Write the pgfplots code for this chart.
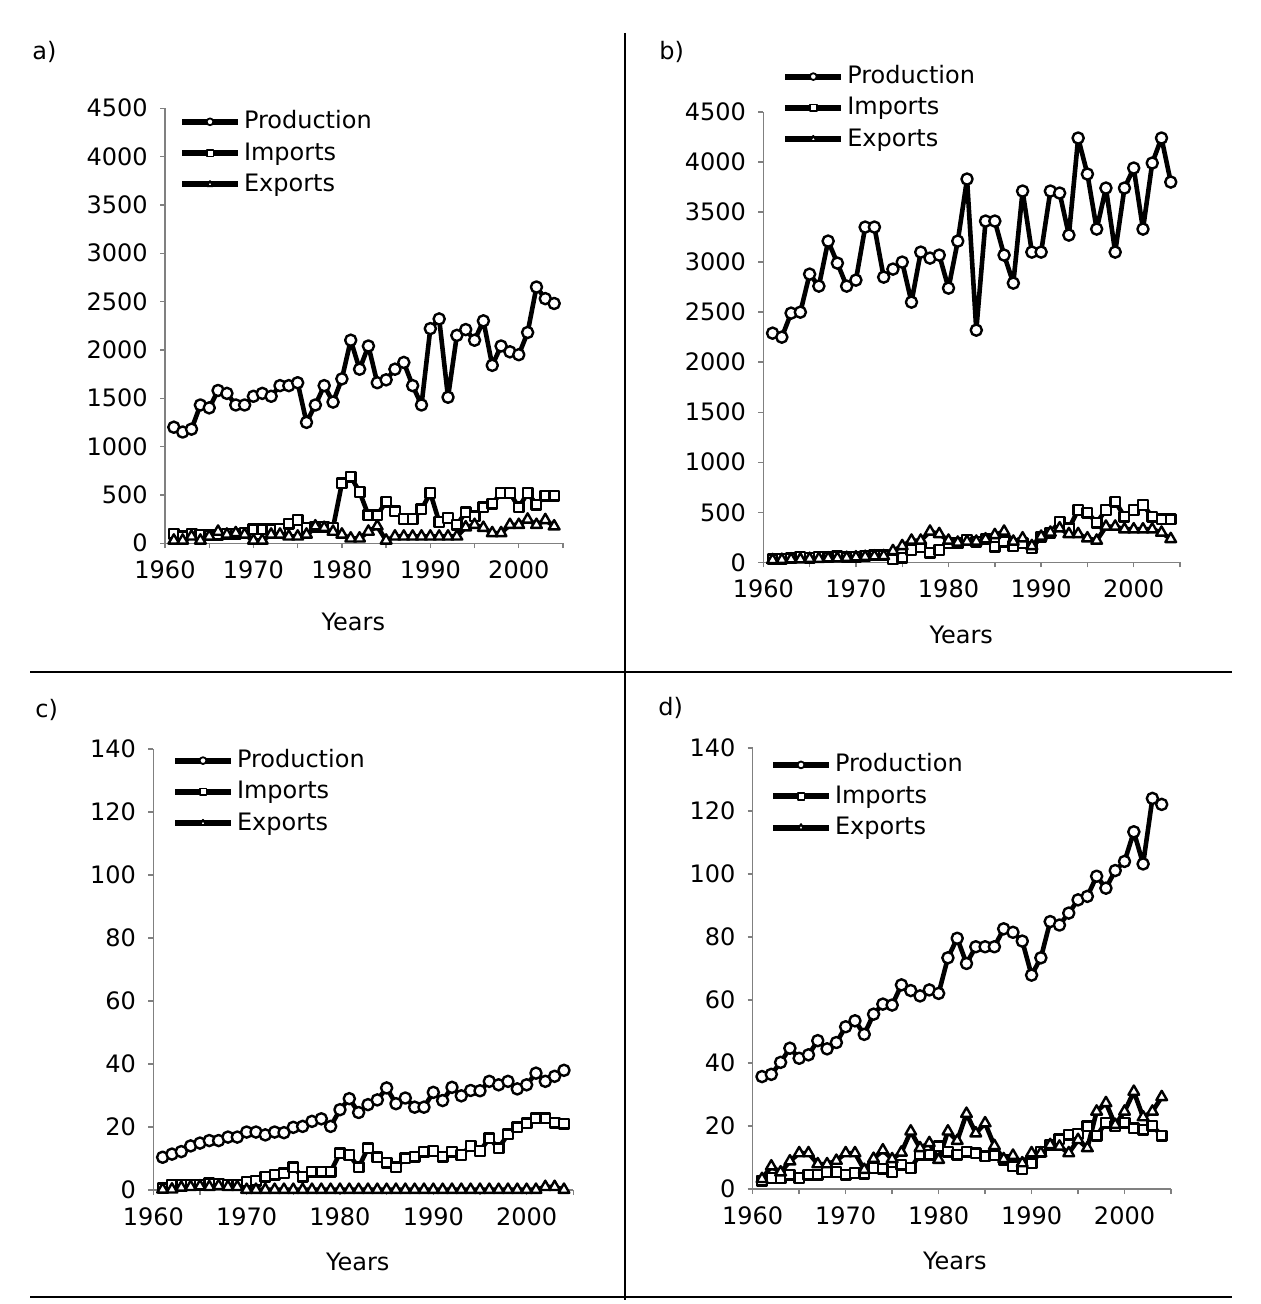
\documentclass[border=0pt]{standalone}
\usepackage{fontspec}
\setmainfont{DejaVu Sans}
\usepackage{pgfplots}
\usepackage{pgfplotstable}
\pgfplotsset{compat=1.18}

\pgfplotstableread{
year prod imp exp
1961 1200 100 28
1962 1150 70 28
1963 1180 100 70
1964 1430 90 28
1965 1400 80 70
1966 1580 90 120
1967 1550 100 90
1968 1430 100 105
1969 1430 110 90
1970 1520 145 28
1971 1550 145 28
1972 1520 145 90
1973 1630 150 90
1974 1630 200 70
1975 1660 240 70
1976 1250 160 90
1977 1430 170 175
1978 1630 170 160
1979 1460 160 120
1980 1700 620 90
1981 2100 690 50
1982 1800 530 50
1983 2040 290 120
1984 1660 290 175
1985 1690 430 28
1986 1800 330 70
1987 1870 250 70
1988 1630 250 70
1989 1430 350 70
1990 2220 520 70
1991 2320 220 70
1992 1510 260 70
1993 2150 190 70
1994 2210 320 165
1995 2100 280 190
1996 2300 370 160
1997 1840 410 105
1998 2040 520 105
1999 1980 520 190
2000 1950 370 190
2001 2180 520 245
2002 2650 400 190
2003 2530 490 240
2004 2480 490 175
}\dataA

\pgfplotstableread{
year prod imp exp
1961 2290 30 23
1962 2250 35 25
1963 2490 40 30
1964 2500 55 30
1965 2880 45 35
1966 2760 55 35
1967 3210 50 40
1968 2990 60 40
1969 2760 50 45
1970 2820 55 50
1971 3350 65 55
1972 3350 70 60
1973 2850 70 63
1974 2930 30 113
1975 3000 47 163
1976 2600 123 217
1977 3100 150 217
1978 3040 97 307
1979 3070 123 283
1980 2740 190 217
1981 3210 190 197
1982 3830 223 207
1983 2320 207 207
1984 3410 230 230
1985 3410 157 273
1986 3070 207 307
1987 2790 163 207
1988 3710 190 240
1989 3100 140 163
1990 3100 257 257
1991 3710 297 297
1992 3690 407 340
1993 3270 340 283
1994 4240 523 283
1995 3880 497 240
1996 3330 397 217
1997 3740 523 357
1998 3100 607 357
1999 3740 457 330
2000 3940 523 330
2001 3330 573 330
2002 3990 457 330
2003 4240 430 297
2004 3800 430 233
}\dataB

\pgfplotstableread{
year prod imp exp
1961 10.4 0.5 0.2
1962 11.4 1.6 0.2
1963 12.2 1.6 0.8
1964 14.0 1.6 1.0
1965 14.9 1.6 1.2
1966 15.7 2.1 1.0
1967 15.7 1.9 1.3
1968 16.8 1.6 1.0
1969 16.8 1.6 1.0
1970 18.4 2.7 0.1
1971 18.4 2.9 0.1
1972 17.5 4.2 0.1
1973 18.4 4.8 0.1
1974 18.2 5.3 0.1
1975 19.9 7.2 0.1
1976 20.2 4.2 0.1
1977 21.8 5.8 0.1
1978 22.6 5.8 0.1
1979 20.2 5.8 0.1
1980 25.5 11.7 0.1
1981 29.0 11.1 0.1
1982 24.6 7.2 0.1
1983 27.1 13.3 0.1
1984 28.6 10.4 0.1
1985 32.4 8.7 0.1
1986 27.4 7.2 0.1
1987 29.2 10.1 0.1
1988 26.3 10.6 0.1
1989 26.3 12.2 0.1
1990 31.0 12.4 0.1
1991 28.4 10.6 0.1
1992 32.6 12.2 0.1
1993 29.9 11.1 0.1
1994 31.6 14.0 0.1
1995 31.5 12.4 0.1
1996 34.5 16.4 0.1
1997 33.4 13.3 0.1
1998 34.5 17.7 0.1
1999 32.1 19.9 0.1
2000 33.4 21.2 0.1
2001 37.1 22.8 0.1
2002 34.5 22.8 1.0
2003 36.1 21.4 1.0
2004 38.0 21.0 0.1
}\dataC

\pgfplotstableread{
year prod imp exp
1961 35.7 2.7 3.2
1962 36.4 3.5 7.2
1963 40.2 3.5 5.3
1964 44.7 4.5 8.8
1965 41.5 3.5 11.4
1966 42.6 4.5 11.4
1967 47.1 4.5 7.9
1968 44.5 5.4 7.9
1969 46.5 5.4 9.0
1970 51.5 4.5 11.4
1971 53.4 5.1 11.4
1972 49.1 4.8 6.1
1973 55.5 6.7 9.6
1974 58.7 6.4 12.3
1975 58.4 5.4 9.5
1976 64.8 7.7 11.6
1977 63.0 6.7 18.3
1978 61.3 10.9 13.0
1979 63.2 10.9 14.6
1980 62.1 13.5 9.3
1981 73.4 11.9 18.3
1982 79.6 10.9 15.3
1983 71.6 11.9 23.9
1984 76.9 11.4 17.7
1985 76.9 10.4 20.9
1986 76.9 10.7 13.7
1987 82.6 9.3 9.5
1988 81.5 7.2 10.6
1989 78.7 6.3 8.2
1990 67.9 8.2 11.4
1991 73.4 11.9 11.4
1992 84.9 14.0 14.0
1993 83.8 15.8 13.5
1994 87.6 17.2 11.4
1995 91.8 17.5 15.6
1996 92.9 19.9 13.0
1997 99.3 16.9 24.6
1998 95.5 21.1 27.3
1999 101.1 19.9 20.4
2000 104.0 21.1 24.6
2001 113.4 19.3 30.9
2002 103.2 18.8 22.8
2003 124.0 20.1 24.6
2004 122.1 16.9 29.2
}\dataD

\pgfplotsset{
  panel/.style={
    scale only axis,
    clip=false,
    axis x line=bottom, axis y line=left,
    axis line style={-, draw=gray, line width=0.7pt},
    xmin=1960, xmax=2005,
    xtick={1960,1965,...,2005},
    xticklabels={1960,,1970,,1980,,1990,,2000,},
    tick align=outside,
    major tick length=2.5pt,
    tick style={draw=gray, line width=0.7pt},
    tick label style={font=\fontsize{12}{14}\selectfont},
    /pgf/number format/assume math mode=true,
    /pgf/number format/1000 sep={},
    xticklabel style={anchor=north, inner sep=0pt, yshift=-6pt},
    yticklabel style={anchor=east, inner sep=0pt, xshift=-6pt},
    xlabel={Years},
    xlabel style={font=\fontsize{12}{14}\selectfont, at={(axis description cs:0.5,0)}, anchor=center},
    legend style={draw=none, fill=none, inner sep=0pt, outer sep=0pt,
      font=\fontsize{12}{14}\selectfont,
      at={(0,1)}, anchor=north west,
      row sep=2.65pt, column sep=1.5pt,
      nodes={inner sep=0pt, text height=10pt, text depth=3pt}},
    legend cell align=left,
    legend image code/.code={%
      \draw[##1, mark=none, line width=3pt] (0pt,0pt) -- (28pt,0pt);%
      \draw[##1, mark size=1.7pt, mark options={solid, fill=white, draw=black, line width=0.9pt}] plot coordinates {(14pt,0pt)};%
    },
  },
  prod/.style={black, line width=2.3pt, line join=round, mark=*, mark size=2.8pt, mark options={solid, fill=white, draw=black, line width=1.2pt}},
  imp/.style={black, line width=2.3pt, line join=round, mark=square*, mark size=2.4pt, mark options={solid, fill=white, draw=black, line width=1.2pt}},
  expo/.style={black, line width=2.3pt, line join=round, mark=triangle*, mark size=3.1pt, mark options={solid, fill=white, draw=black, line width=1.2pt}},
}

\begin{document}
\begin{tikzpicture}
\path[use as bounding box] (0pt,0pt) rectangle (630pt,-652pt);

% separators
\draw[line width=1.2pt] (312.5pt,-16.5pt) -- (312.5pt,-650pt);
\draw[line width=1.2pt] (15pt,-336pt) -- (616pt,-336pt);
\draw[line width=1.2pt] (15pt,-648.5pt) -- (616pt,-648.5pt);

% panel labels
\node[anchor=west, inner sep=0pt, font=\fontsize{12}{14}\selectfont] at (16pt,-26pt) {a)};
\node[anchor=west, inner sep=0pt, font=\fontsize{12}{14}\selectfont] at (329.5pt,-26pt) {b)};
\node[anchor=west, inner sep=0pt, font=\fontsize{12}{14}\selectfont] at (17.5pt,-355pt) {c)};
\node[anchor=west, inner sep=0pt, font=\fontsize{12}{14}\selectfont] at (329pt,-354pt) {d)};

% panel a
\begin{axis}[panel, at={(82.5pt,-271.6pt)}, anchor=south west,
  width=199pt, height=217.5pt, ymin=0, ymax=4500, ytick={0,500,...,4500},
  xlabel style={xshift=-5.3pt, yshift=-39.2pt},
  legend style={xshift=7pt, yshift=-0.3pt}]
\addplot[prod] table[x=year,y=prod] {\dataA};
\addplot[imp] table[x=year,y=imp] {\dataA};
\addplot[expo] table[x=year,y=exp] {\dataA};
\legend{Production,Imports,Exports}
\end{axis}

% panel b
\begin{axis}[panel, at={(381.65pt,-281.15pt)}, anchor=south west,
  width=208.35pt, height=225.15pt, ymin=0, ymax=4500, ytick={0,500,...,4500},
  xlabel style={xshift=-5.2pt, yshift=-36.35pt},
  legend style={xshift=9.5pt, yshift=24.2pt}]
\addplot[prod] table[x=year,y=prod] {\dataB};
\addplot[imp] table[x=year,y=imp] {\dataB};
\addplot[expo] table[x=year,y=exp] {\dataB};
\legend{Production,Imports,Exports}
\end{axis}

% panel c
\begin{axis}[panel, at={(76.65pt,-595pt)}, anchor=south west,
  width=210pt, height=220.5pt, ymin=0, ymax=140, ytick={0,20,...,140},
  xlabel style={xshift=-2.75pt, yshift=-35.85pt},
  legend style={xshift=9.35pt, yshift=0.7pt}]
\addplot[prod] table[x=year,y=prod] {\dataC};
\addplot[imp] table[x=year,y=imp] {\dataC};
\addplot[expo] table[x=year,y=exp] {\dataC};
\legend{Production,Imports,Exports}
\end{axis}

% panel d
\begin{axis}[panel, at={(376.35pt,-594.5pt)}, anchor=south west,
  width=209.15pt, height=220.5pt, ymin=0, ymax=140, ytick={0,20,...,140},
  xlabel style={xshift=-3.5pt, yshift=-36pt},
  legend style={xshift=8.65pt, yshift=-1.95pt}]
\addplot[prod] table[x=year,y=prod] {\dataD};
\addplot[imp] table[x=year,y=imp] {\dataD};
\addplot[expo] table[x=year,y=exp] {\dataD};
\legend{Production,Imports,Exports}
\end{axis}
\end{tikzpicture}
\end{document}
